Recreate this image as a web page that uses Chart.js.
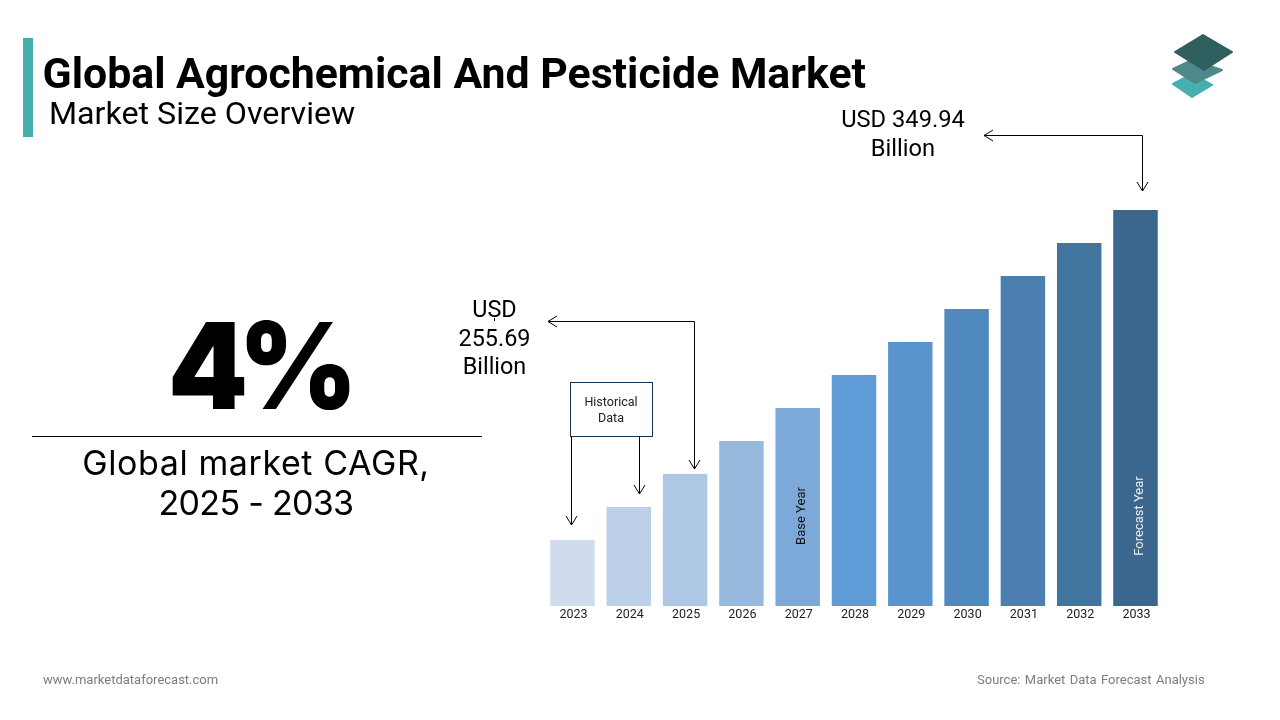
<!DOCTYPE html>
<html><head><meta charset="utf-8">
<script src="https://cdn.jsdelivr.net/npm/chart.js@4"></script>
<style>
html,body{margin:0;padding:0;background:#fff;width:1280px;height:720px;overflow:hidden;font-family:Roboto,sans-serif;color:#000}
#wrap{position:relative;width:1280px;height:720px}
canvas{position:absolute;left:0;top:0}
.t{position:absolute;white-space:nowrap;line-height:1}
.c{transform:translateX(-50%);text-align:center}
svg{position:absolute;left:0;top:0}
</style></head><body>
<div id="wrap">
<canvas id="c" width="1280" height="720"></canvas>
<svg width="1280" height="720" viewBox="0 0 1280 720" fill="none">
<rect x="23" y="38" width="10" height="99" fill="#45ADAD"/>
<g stroke-linejoin="round" stroke-width="2">
<polygon points="1173,84 1192,74 1212,85 1192,97" fill="#46AFB0" stroke="#46AFB0"/>
<polygon points="1173,69 1192,60 1222,70 1195,83" fill="#4F8A8A" stroke="#4F8A8A"/>
<polygon points="1175,52 1203,35 1232,52 1204,70" fill="#2F5F5E" stroke="#2F5F5E"/>
</g>
<line x1="32" y1="436.5" x2="482" y2="436.5" stroke="#000" stroke-width="1"/>
<rect x="570.5" y="382.5" width="82" height="54" fill="#fff" stroke="#14304f" stroke-width="1"/>
<g stroke="#000" stroke-width="1">
<path d="M571.5 437V525M566 516L571.5 525L577 516"/>
<path d="M639.5 437V494M634 485L639.5 494L645 485"/>
<path d="M694.5 321.5V469M689 460L694.5 469L700 460"/>
<path d="M694.5 321.5H548M557 316L548 321.5L557 327"/>
<path d="M1142.5 135.5V191M1137 182L1142.5 191L1148 182"/>
<path d="M1142.5 135.5H984M993 130L984 135.5L993 141"/>
<path d="M494.5 318V321"/>
</g>
</svg>
<div class="t" style="left:42.5px;top:52px;font-size:42.8px;font-weight:700">Global Agrochemical And Pesticide Market</div>
<div class="t" style="left:49px;top:97px;font-size:32.2px">Market Size Overview</div>
<div class="t" style="left:168px;top:306px;font-size:120px;font-weight:900;font-family:Inter;letter-spacing:-10px;transform:scaleX(.95);transform-origin:left top">4%</div>
<div class="t c" style="left:256px;top:443px;font-size:34px;font-family:Inter;line-height:40px"><span style="letter-spacing:.6px">Global market CAGR,</span><br><span style="letter-spacing:-.7px">2025 - 2033</span></div>
<div class="t c" style="left:903px;top:105px;font-size:23.7px;line-height:29px">USD 349.94<br>Billion</div>
<div class="t c" style="left:494.5px;top:295px;font-size:23.4px;line-height:28.5px">USD<br>255.69<br>Billion</div>
<div class="t c" style="left:611px;top:394px;font-size:12.5px;line-height:16px;color:#222">Historical<br>Data</div>
<div class="t" style="left:43px;top:673px;font-size:13px;color:#7d7d7d">www.marketdataforecast.com</div>
<div class="t" style="left:977px;top:673px;font-size:13px;color:#7d7d7d;word-spacing:1.2px">Source: Market Data Forecast Analysis</div>
</div>
<script>
const years = ['2023','2024','2025','2026','2027','2028','2029','2030','2031','2032','2033'];
const barHeights = [2,3,4,5,6,7,8,9,10,11,12];
const barColors = ['#D0DCEE','#BDD0E9','#AEC7E4','#98B9DE','#7CA9DA','#5F9BD6','#5A94CE','#5089BD','#4A7FB0','#4274A0','#3B678F'];
const barNotes = {'2027':['Base Year','#111'],'2033':['Forecast Year','#eee']};
const notes = {id:'notes',afterDatasetsDraw(ch){
  const {ctx,scales:{x}}=ch;
  ctx.save();ctx.font='13px Roboto';ctx.textAlign='center';ctx.textBaseline='middle';
  years.forEach((yr,i)=>{ if(!barNotes[yr])return;
    ctx.save();ctx.translate(x.getPixelForValue(i)+4.5,516);ctx.rotate(-Math.PI/2);
    ctx.fillStyle=barNotes[yr][1];ctx.fillText(barNotes[yr][0],0,0);ctx.restore();});
  ctx.restore();
}};
new Chart(document.getElementById('c'),{
  type:'bar',
  data:{labels:years,datasets:[{data:barHeights,backgroundColor:barColors,barPercentage:.79,categoryPercentage:1,borderWidth:0}]},
  options:{responsive:false,animation:false,
    layout:{padding:{left:544.35,right:116.35,top:210,bottom:0}},
    plugins:{legend:{display:false},tooltip:{enabled:false}},
    scales:{
      x:{grid:{display:false,drawTicks:false,tickLength:0},border:{display:false},
         ticks:{color:'#222',font:{family:'Roboto',size:12.5},padding:1,maxRotation:0,autoSkip:false,labelOffset:1},
         afterFit(s){s.height=114}},
      y:{display:false,min:0,max:12}
    }},
  plugins:[notes]
});
</script>
</body></html>
